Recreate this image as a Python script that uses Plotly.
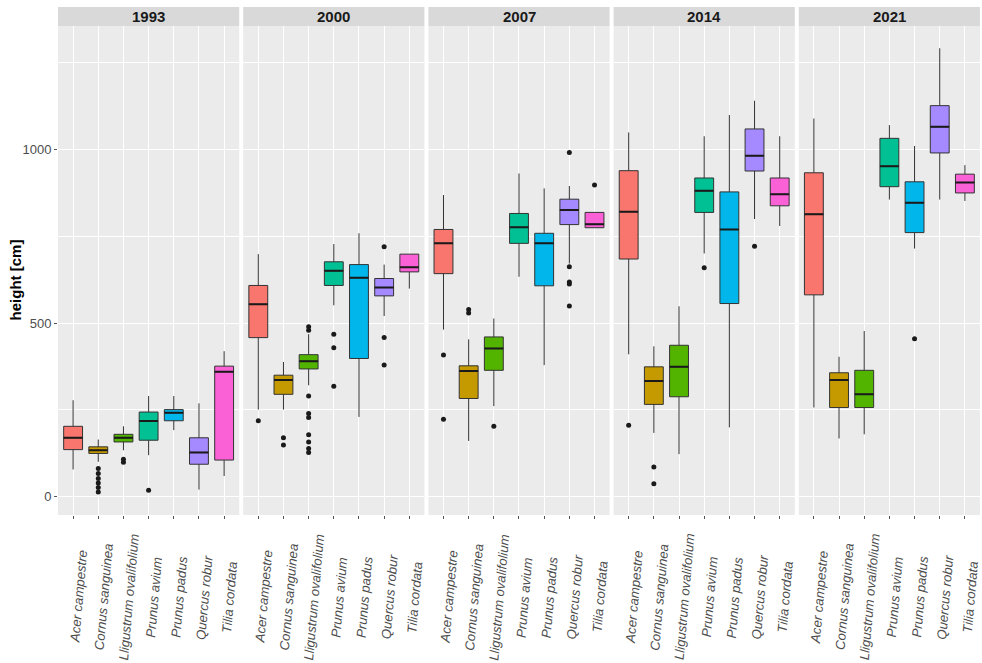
import plotly.graph_objects as go
from plotly.subplots import make_subplots

years = ["1993", "2000", "2007", "2014", "2021"]
species = ["Acer campestre", "Cornus sanguinea", "Lligustrum ovalifolium",
           "Prunus avium", "Prunus padus", "Quercus robur", "Tilia cordata"]
colors = ["#F8766D", "#C49A00", "#53B400", "#00C094", "#00B6EB", "#A58AFF", "#FB61D7"]

# five-number summaries per year, one value per species (cm)
lower = {
    "1993": [79, 101, 134, 120, 192, 21, 60],
    "2000": [251, 251, 321, 551, 230, 520, 599],
    "2007": [481, 161, 261, 633, 379, 671, 774],
    "2014": [410, 184, 123, 700, 200, 799, 779],
    "2021": [257, 168, 180, 855, 714, 855, 851],
}
q1 = {
    "1993": [136, 125, 158, 163, 219, 94, 106],
    "2000": [458, 295, 368, 608, 398, 578, 647],
    "2007": [642, 283, 364, 729, 607, 783, 774],
    "2014": [684, 266, 288, 818, 556, 937, 837],
    "2021": [581, 257, 257, 892, 760, 989, 874],
}
median = {
    "1993": [170, 134, 170, 218, 242, 128, 360],
    "2000": [554, 336, 390, 650, 630, 602, 660],
    "2007": [729, 362, 427, 775, 729, 825, 784],
    "2014": [820, 333, 374, 880, 769, 981, 870],
    "2021": [813, 336, 295, 951, 846, 1064, 904],
}
q3 = {
    "1993": [203, 144, 180, 244, 251, 170, 376],
    "2000": [608, 350, 409, 676, 668, 628, 698],
    "2007": [769, 377, 460, 815, 758, 856, 818],
    "2014": [938, 374, 436, 917, 877, 1058, 917],
    "2021": [932, 357, 364, 1031, 906, 1125, 928],
}
upper = {
    "1993": [278, 165, 203, 290, 290, 269, 419],
    "2000": [698, 388, 468, 727, 758, 668, 698],
    "2007": [868, 453, 513, 930, 887, 894, 818],
    "2014": [1048, 433, 548, 1037, 1098, 1139, 1037],
    "2021": [1088, 403, 477, 1069, 1009, 1290, 954],
}
# outlying trees, keyed by species index
outliers = {
    "1993": {1: [82, 67, 53, 40, 27, 14], 2: [108, 100], 3: [19]},
    "2000": {0: [219], 1: [170, 149],
             2: [489, 479, 290, 240, 228, 179, 158, 139, 128],
             3: [468, 429, 318], 5: [719, 458, 379]},
    "2007": {0: [408, 223], 1: [539, 529], 2: [203],
             5: [990, 662, 618, 612, 549], 6: [897]},
    "2014": {0: [206], 1: [86, 38], 3: [659], 5: [721]},
    "2021": {4: [455]},
}

fig = make_subplots(rows=1, cols=5, shared_yaxes=True, horizontal_spacing=0.0043)

for c, yr in enumerate(years, start=1):
    xname = "x" if c == 1 else f"x{c}"
    for i, sp in enumerate(species):
        fig.add_trace(go.Box(
            x=[sp], q1=[q1[yr][i]], median=[median[yr][i]], q3=[q3[yr][i]],
            lowerfence=[lower[yr][i]], upperfence=[upper[yr][i]],
            width=0.75, whiskerwidth=0, boxpoints=False,
            fillcolor=colors[i], line=dict(color="#333333", width=1),
            showlegend=False, hoverinfo="skip"), row=1, col=c)
        # heavier median bar drawn as a collapsed box
        m = median[yr][i]
        fig.add_trace(go.Box(
            x=[sp], q1=[m], median=[m], q3=[m], lowerfence=[m], upperfence=[m],
            width=0.75, whiskerwidth=0, boxpoints=False,
            fillcolor="rgba(0,0,0,0)", line=dict(color="#1A1A1A", width=2),
            showlegend=False, hoverinfo="skip"), row=1, col=c)
        # species label, centred below its tick
        fig.add_annotation(
            text=sp, xref=xname, yref="paper", x=sp, y=-0.1677,
            xanchor="center", yanchor="middle", xshift=5,
            textangle=-85, showarrow=False,
            font=dict(family="Liberation Sans", size=13.2, color="#4D4D4D",
                      style="italic"))
    for i, vals in outliers[yr].items():
        fig.add_trace(go.Scatter(
            x=[species[i]] * len(vals), y=vals, mode="markers",
            marker=dict(color="#1A1A1A", size=5),
            showlegend=False, hoverinfo="skip"), row=1, col=c)

    fig.update_xaxes(
        type="category", categoryorder="array", categoryarray=species,
        range=[-0.6, 6.6], showgrid=True, gridcolor="white", gridwidth=1,
        zeroline=False, showline=False, ticks="outside", ticklen=3,
        tickcolor="#555555", showticklabels=False,
        row=1, col=c)
    fig.update_yaxes(
        range=[-52, 1354], tickvals=[0, 500, 1000],
        showgrid=True, gridcolor="white", gridwidth=1.2, zeroline=False,
        minor=dict(tickvals=[250, 750, 1250], showgrid=True,
                   gridcolor="white", gridwidth=0.6),
        ticks="outside" if c == 1 else "", ticklen=3, tickcolor="#555555",
        showticklabels=(c == 1),
        tickfont=dict(family="Liberation Sans", size=13, color="#4D4D4D"),
        row=1, col=c)

    # facet strip
    fig.add_shape(type="rect", xref=f"{xname} domain", yref="paper", x0=0, x1=1,
                  y0=1.0, y1=1.039, fillcolor="#D9D9D9", line_width=0,
                  layer="below")
    fig.add_annotation(text=f"<b>{yr}</b>", xref=f"{xname} domain", yref="paper",
                       x=0.5, y=1.0195, xanchor="center", yanchor="middle",
                       showarrow=False,
                       font=dict(family="Liberation Sans", size=15,
                                 color="#1A1A1A"))

fig.add_annotation(text="<b>height [cm]</b>", xref="paper", yref="paper",
                   x=-0.0465, y=0.48, xanchor="center", yanchor="middle",
                   textangle=-90, showarrow=False,
                   font=dict(family="Liberation Sans", size=15, color="#000000"))

fig.update_layout(
    width=982, height=663,
    margin=dict(l=58, r=2, t=26, b=148),
    paper_bgcolor="white", plot_bgcolor="#EBEBEB",
    boxmode="overlay",
)

fig.write_html("out.html")
